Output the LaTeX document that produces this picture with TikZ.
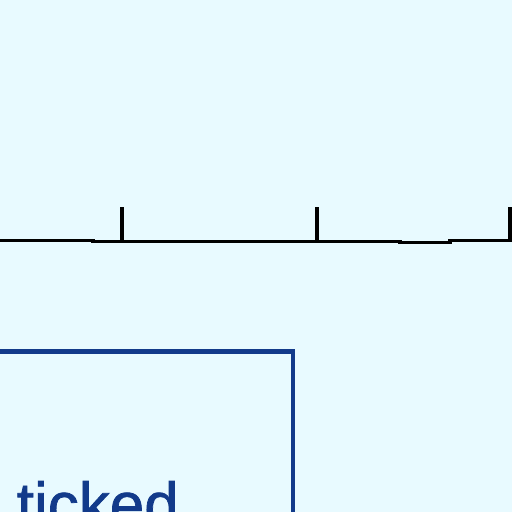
\documentclass[tikz,border=0pt]{standalone}
\usepackage{fontspec}
\setmainfont{Liberation Sans}
\newfontfamily\thickfont[FakeBold=1.2]{Liberation Sans}
\definecolor{bgc}{RGB}{232,250,255}
\definecolor{boxblue}{RGB}{18,58,138}
\begin{document}
\begin{tikzpicture}[x=1pt,y=-1pt,
  axisline/.style={draw=black,line width=3.3pt},
  tickmark/.style={draw=black,line width=4pt},
  boxedge/.style={draw=boxblue,line width=4.5pt},
  bigtext/.style={inner sep=0pt,text=boxblue,font=\thickfont\fontsize{62}{62}\selectfont}]
\useasboundingbox (0,0) rectangle (512,512);
\fill[bgc] (0,0) rectangle (512,512);
\clip (0,0) rectangle (512,512);
% axis with slight steps
\coordinate (a0) at (-5,240.5);
\coordinate (a1) at (93,240.5);
\coordinate (a2) at (93,241.5);
\coordinate (a3) at (400,241.5);
\coordinate (a4) at (400,242.5);
\coordinate (a5) at (450,242.5);
\coordinate (a6) at (450,240.5);
\coordinate (a7) at (520,240.5);
\draw[axisline] (a0) -- (a1) -- (a2) -- (a3) -- (a4) -- (a5) -- (a6) -- (a7);
% ticks
\coordinate (t1b) at (122,241); \coordinate (t1t) at (122,207);
\coordinate (t2b) at (317,241); \coordinate (t2t) at (317,207);
\coordinate (t3b) at (510,241); \coordinate (t3t) at (510,207);
\draw[tickmark] (t1b) -- (t1t);
\draw[tickmark] (t2b) -- (t2t);
\draw[tickmark] (t3b) -- (t3t);
% box
\coordinate (b0) at (-10,351.5);
\coordinate (b1) at (293,351.5);
\coordinate (b2) at (293,530);
\draw[boxedge] (b0) -- (b1) -- (b2);
% text
\node[bigtext,anchor=base east] (lbl) at (179,526) {not ticked};
\end{tikzpicture}
\end{document}
